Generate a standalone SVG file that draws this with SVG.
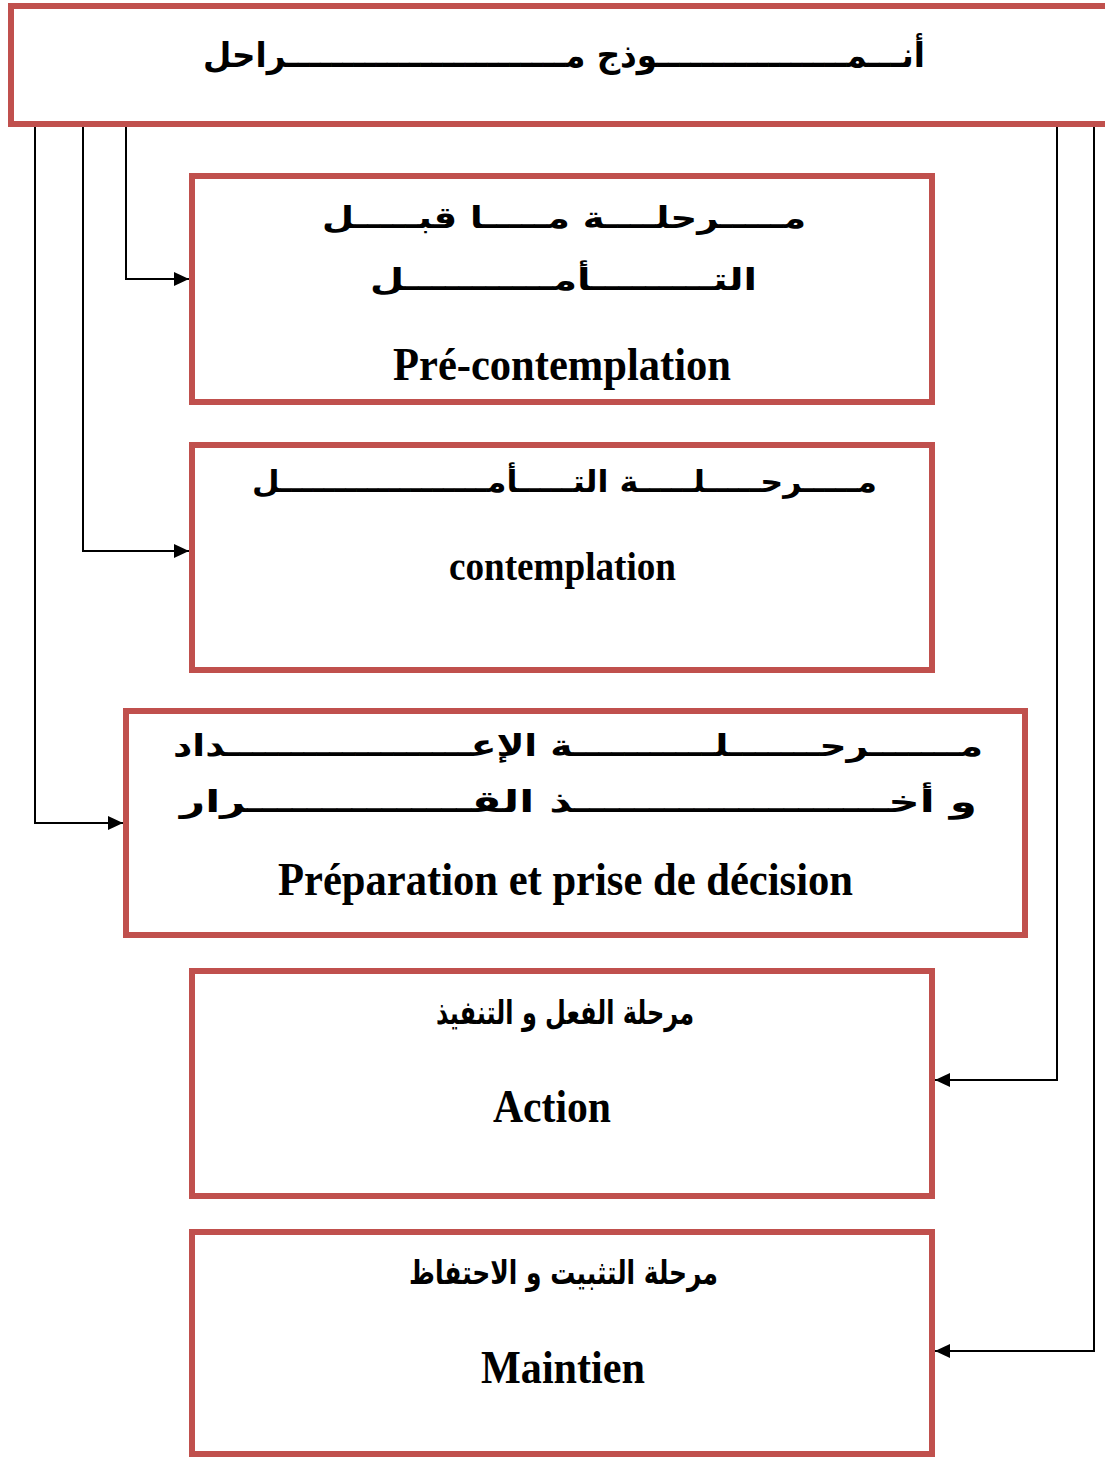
<svg xmlns="http://www.w3.org/2000/svg" width="1105" height="1458" viewBox="0 0 1105 1458">
  <style>
    .box { fill: #FFFFFF; stroke: #C0504D; stroke-width: 6; }
    .wire { fill: none; stroke: #000000; stroke-width: 2; }
    .ar { font-family: "DejaVu Sans", sans-serif; font-weight: bold; fill: #000000; }
    .fr { font-family: "Liberation Serif", "Times New Roman", serif; font-weight: bold; fill: #000000; }
  </style>
  <defs>
    <marker id="head" markerUnits="userSpaceOnUse" markerWidth="16" markerHeight="14" refX="15" refY="7" orient="auto">
      <path d="M0,0 L15,7 L0,14 Z" fill="#000000"/>
    </marker>
  </defs>

  <rect width="1105" height="1458" fill="#FFFFFF"/>

  <!-- model header -->
  <g id="header">
    <rect class="box" x="11" y="6" width="1100" height="118"/>
    <text class="ar" x="564" y="67" font-size="34" text-anchor="middle" direction="rtl" textLength="722" lengthAdjust="spacingAndGlyphs">أنـــمـــــــــــــــــوذج مـــــــــــــــــــــــــراحل</text>
  </g>

  <!-- stage 1 -->
  <g id="stage-precontemplation">
    <rect class="box" x="192" y="176" width="740" height="226"/>
    <text class="ar" x="564" y="228" font-size="30" text-anchor="middle" direction="rtl" textLength="484" lengthAdjust="spacingAndGlyphs">مـــــرحلــــة مـــــا قبـــــل</text>
    <text class="ar" x="563.5" y="290" font-size="30" text-anchor="middle" direction="rtl" textLength="387" lengthAdjust="spacingAndGlyphs">التـــــــــأمـــــــــــل</text>
    <text class="fr" x="562" y="380" font-size="46" text-anchor="middle" textLength="338" lengthAdjust="spacingAndGlyphs">Pré-contemplation</text>
  </g>

  <!-- stage 2 -->
  <g id="stage-contemplation">
    <rect class="box" x="192" y="445" width="740" height="225"/>
    <text class="ar" x="564.5" y="492" font-size="30" text-anchor="middle" direction="rtl" textLength="625" lengthAdjust="spacingAndGlyphs">مـــــرحـــــلـــــة التـــــأمـــــــــــــــــــل</text>
    <text class="fr" x="562.5" y="580" font-size="40" text-anchor="middle" textLength="227" lengthAdjust="spacingAndGlyphs">contemplation</text>
  </g>

  <!-- stage 3 -->
  <g id="stage-preparation">
    <rect class="box" x="126" y="711" width="899" height="224"/>
    <text class="ar" x="578" y="756" font-size="30" text-anchor="middle" direction="rtl" textLength="810" lengthAdjust="spacingAndGlyphs">مـــــــرحـــــــلـــــــــــة الإعـــــــــــــــــــداد</text>
    <text class="ar" x="578.5" y="812" font-size="30" text-anchor="middle" direction="rtl" textLength="797" lengthAdjust="spacingAndGlyphs">و أخـــــــــــــــــــــذ القـــــــــــــــرار</text>
    <text class="fr" x="565.5" y="895" font-size="46" text-anchor="middle" textLength="575" lengthAdjust="spacingAndGlyphs">Préparation et prise de décision</text>
  </g>

  <!-- stage 4 -->
  <g id="stage-action">
    <rect class="box" x="192" y="971" width="740" height="225"/>
    <text class="ar" x="565" y="1024" font-size="33" text-anchor="middle" direction="rtl" textLength="258" lengthAdjust="spacingAndGlyphs">مرحلة الفعل و التنفيذ</text>
    <text class="fr" x="552" y="1122" font-size="46" text-anchor="middle" textLength="118" lengthAdjust="spacingAndGlyphs">Action</text>
  </g>

  <!-- stage 5 -->
  <g id="stage-maintien">
    <rect class="box" x="192" y="1232" width="740" height="222"/>
    <text class="ar" x="563.5" y="1284" font-size="33" text-anchor="middle" direction="rtl" textLength="309" lengthAdjust="spacingAndGlyphs">مرحلة التثبيت و الاحتفاظ</text>
    <text class="fr" x="563" y="1383" font-size="46" text-anchor="middle" textLength="164" lengthAdjust="spacingAndGlyphs">Maintien</text>
  </g>

  <!-- connectors from the header down to each stage -->
  <g id="connectors">
    <polyline class="wire" points="126,127 126,279 189,279" marker-end="url(#head)"/>
    <polyline class="wire" points="83,127 83,551 189,551" marker-end="url(#head)"/>
    <polyline class="wire" points="35,127 35,823 123,823" marker-end="url(#head)"/>
    <polyline class="wire" points="1057,127 1057,1080 935,1080" marker-end="url(#head)"/>
    <polyline class="wire" points="1094,127 1094,1351 935,1351" marker-end="url(#head)"/>
  </g>
</svg>
